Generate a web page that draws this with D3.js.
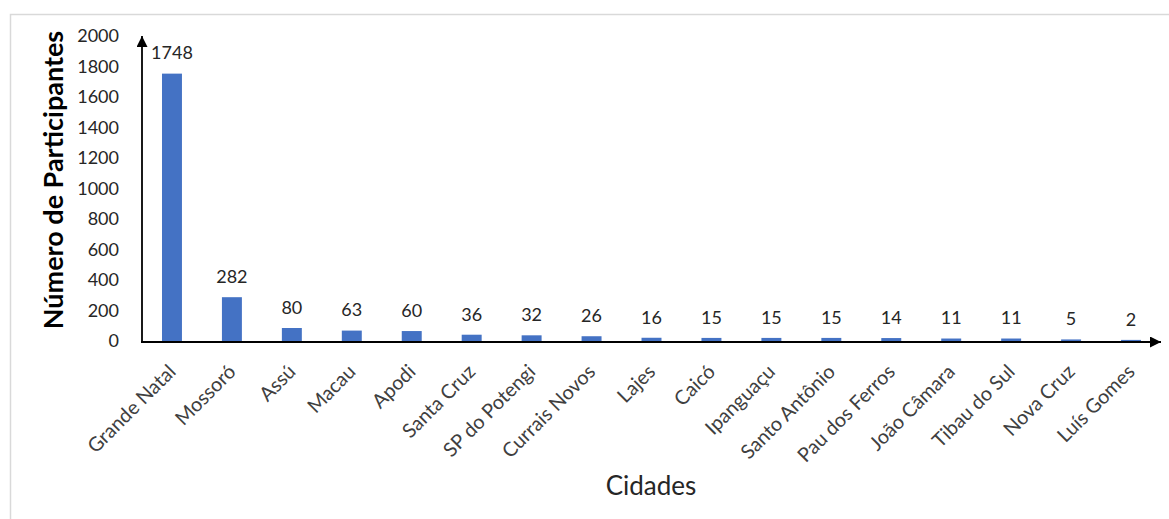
<!DOCTYPE html>
<html>
<head>
<meta charset="utf-8">
<script src="https://cdn.jsdelivr.net/npm/d3@7"></script>
<style>
  html, body { margin: 0; padding: 0; background: #fff; }
  svg { display: block; }
</style>
</head>
<body>
<svg id="chart" width="1169" height="519"></svg>
<script>
const cities = ["Grande Natal", "Mossoró", "Assú", "Macau", "Apodi", "Santa Cruz", "SP do Potengi", "Currais Novos", "Lajes", "Caicó", "Ipanguaçu", "Santo Antônio", "Pau dos Ferros", "João Câmara", "Tibau do Sul", "Nova Cruz", "Luís Gomes"];
const participants = [1748, 282, 80, 63, 60, 36, 32, 26, 16, 15, 15, 15, 14, 11, 11, 5, 2];
const yTicks = [0, 200, 400, 600, 800, 1000, 1200, 1400, 1600, 1800, 2000];
const xTitle = "Cidades";
const yTitle = "Número de Participantes";

const svg = d3.select("#chart");
const FONT = "Lato, 'Open Sans', sans-serif";

// outer border
svg.append("rect")
  .attr("x", 10.5).attr("y", 14.5)
  .attr("width", 1200).attr("height", 600)
  .attr("fill", "none").attr("stroke", "#d9d9d9").attr("stroke-width", 1.5);

const x0 = 142, x1 = 1161, yBase = 341, yTop = 36;
const x = d3.scaleBand().domain(cities).range([x0, x1]).paddingInner(0.667).paddingOuter(0.3335);
const y = d3.scaleLinear().domain([0, 2000]).range([yBase, yTop]);

// bars
svg.append("g").selectAll("rect").data(cities).join("rect")
  .attr("x", d => x(d))
  .attr("y", (d, i) => y(participants[i]) - 0.8)
  .attr("width", x.bandwidth())
  .attr("height", (d, i) => yBase - y(participants[i]) + 0.8)
  .attr("fill", "#4472C4");

// value labels
svg.append("g").selectAll("text").data(cities).join("text")
  .attr("x", d => x(d) + x.bandwidth() / 2)
  .attr("y", (d, i) => y(participants[i]) - 15)
  .attr("text-anchor", "middle")
  .attr("font-family", FONT).attr("font-size", 18)
  .attr("fill", "#262626")
  .text((d, i) => participants[i]);

// y axis (ticks labels)
const gy = svg.append("g").attr("transform", `translate(${x0},0)`)
  .call(d3.axisLeft(y).tickValues(yTicks).tickSize(0).tickPadding(23).tickFormat(d3.format("d")));
gy.select(".domain").remove();
gy.selectAll("text").attr("font-family", FONT).attr("font-size", 18).attr("fill", "#262626");

// x axis labels
const gx = svg.append("g").attr("transform", `translate(0,${yBase})`)
  .call(d3.axisBottom(x).tickSize(0));
gx.select(".domain").remove();
gx.selectAll("text")
  .attr("font-family", FONT).attr("font-size", 19.8).attr("fill", "#404040")
  .attr("text-anchor", "end")
  .attr("x", 0).attr("y", 0).attr("dy", 0)
  .attr("transform", "translate(5,32) rotate(-45)");

// axis lines with arrows
const defs = svg.append("defs");
defs.append("marker").attr("id", "arrow")
  .attr("viewBox", "0 0 10 10").attr("refX", 10).attr("refY", 5)
  .attr("markerUnits", "userSpaceOnUse")
  .attr("markerWidth", 12).attr("markerHeight", 11)
  .attr("orient", "auto")
  .append("path").attr("d", "M0,0 L10,5 L0,10 Z").attr("fill", "#000");

svg.append("line")
  .attr("x1", x0).attr("y1", yBase + 1).attr("x2", x0).attr("y2", yTop)
  .attr("stroke", "#000").attr("stroke-width", 1.8).attr("marker-end", "url(#arrow)");
svg.append("line")
  .attr("x1", x0 - 1).attr("y1", yBase + 1).attr("x2", x1).attr("y2", yBase + 1)
  .attr("stroke", "#000").attr("stroke-width", 1.8).attr("marker-end", "url(#arrow)");

// titles
svg.append("text")
  .attr("x", 651).attr("y", 495)
  .attr("text-anchor", "middle")
  .attr("font-family", FONT).attr("font-size", 26).attr("fill", "#262626")
  .text(xTitle);

svg.append("text")
  .attr("transform", "translate(63,180) rotate(-90)")
  .attr("text-anchor", "middle")
  .attr("font-family", FONT).attr("font-size", 27).attr("font-weight", "bold").attr("fill", "#000")
  .text(yTitle);
</script>
</body>
</html>
